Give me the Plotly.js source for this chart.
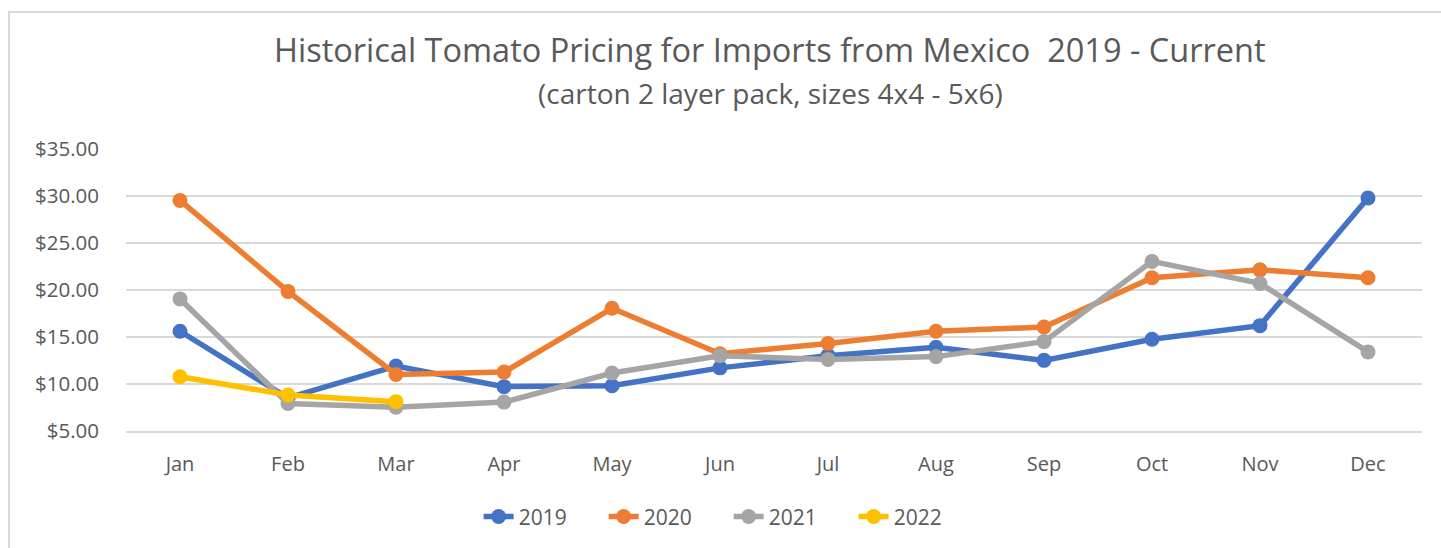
<!DOCTYPE html>
<html>
<head>
<meta charset="utf-8">
<script src="https://cdn.plot.ly/plotly-3.0.1.min.js"></script>
<style>
  html, body { margin: 0; padding: 0; background: #ffffff; }
  #wrap { position: relative; width: 1441px; height: 548px; overflow: hidden; }
  #chart { position: absolute; left: 0; top: 0; width: 1441px; height: 548px; }
  #frame { position: absolute; left: 8px; top: 11px; width: 1450px; height: 560px;
           border-left: 2px solid #d9d9d9; border-top: 2px solid #d9d9d9; pointer-events: none; }
</style>
</head>
<body>
<div id="wrap">
  <div id="chart"></div>
  <div id="frame"></div>
</div>
<script>
const months = ["Jan","Feb","Mar","Apr","May","Jun","Jul","Aug","Sep","Oct","Nov","Dec"];
const years = ["2019","2020","2021","2022"];
const price2019 = [15.6, 8.5, 11.9, 9.7, 9.8, 11.7, 13.0, 13.9, 12.5, 14.75, 16.2, 29.8];
const price2020 = [29.55, 19.85, 11.0, 11.25, 18.05, 13.2, 14.3, 15.6, 16.05, 21.3, 22.15, 21.3];
const price2021 = [19.05, 7.9, 7.5, 8.05, 11.15, 13.0, 12.6, 12.9, 14.5, 23.05, 20.7, 13.4];
const price2022 = [10.75, 8.8, 8.1];
const yTicks = [5, 10, 15, 20, 25, 30, 35];
const colors = ["#4472C4", "#ED7D31", "#A5A5A5", "#FFC000"];
const titleText = "Historical Tomato Pricing for Imports from Mexico\u00a0\u00a02019 - Current";
const subtitleText = "(carton 2 layer pack, sizes 4x4 - 5x6)";

const series = [price2019, price2020, price2021, price2022];
const traces = series.map((vals, i) => ({
  type: "scatter",
  mode: "lines+markers",
  name: years[i],
  x: months.slice(0, vals.length),
  y: vals,
  line: { color: colors[i], width: 5.5 },
  marker: { color: colors[i], size: 15 },
  hoverinfo: "skip"
}));

const txt = "#595959";
const font = "'Open Sans', 'Noto Sans', sans-serif";

const layout = {
  width: 1441, height: 548, autosize: false,
  margin: { l: 126, r: 19, t: 149, b: 116 },
  paper_bgcolor: "#ffffff", plot_bgcolor: "#ffffff",
  font: { family: font, color: txt, size: 21 },
  showlegend: true,
  legend: {
    orientation: "h", x: 0.465, xanchor: "center", y: -0.30, yanchor: "middle",
    font: { family: font, size: 21, color: txt }, bgcolor: "rgba(0,0,0,0)",
    traceorder: "normal", entrywidth: 80, entrywidthmode: "pixels"
  },
  xaxis: {
    type: "category", categoryorder: "array", categoryarray: months,
    range: [-0.5, 11.5], showgrid: false, zeroline: false,
    showline: true, linecolor: "#d9d9d9", linewidth: 2,
    ticks: "", tickfont: { family: font, size: 20, color: txt },
    ticklabelstandoff: 14, fixedrange: true
  },
  yaxis: {
    range: [4.97, 35.03], tickvals: yTicks,
    tickformat: "$.2f",
    showgrid: true, gridcolor: "#d9d9d9", gridwidth: 2,
    zeroline: false, showline: false, ticks: "",
    tickfont: { family: font, size: 20.5, color: txt },
    ticklabelstandoff: 26, fixedrange: true
  },
  annotations: [
    { text: titleText, xref: "paper", yref: "paper", x: 0.497, y: 1.353,
      xanchor: "center", yanchor: "middle", showarrow: false,
      font: { family: font, size: 32.5, color: txt } },
    { text: subtitleText, xref: "paper", yref: "paper", x: 0.497, y: 1.198,
      xanchor: "center", yanchor: "middle", showarrow: false,
      font: { family: font, size: 28, color: txt } }
  ]
};

Plotly.newPlot("chart", traces, layout, { staticPlot: true, displayModeBar: false });
</script>
</body>
</html>
